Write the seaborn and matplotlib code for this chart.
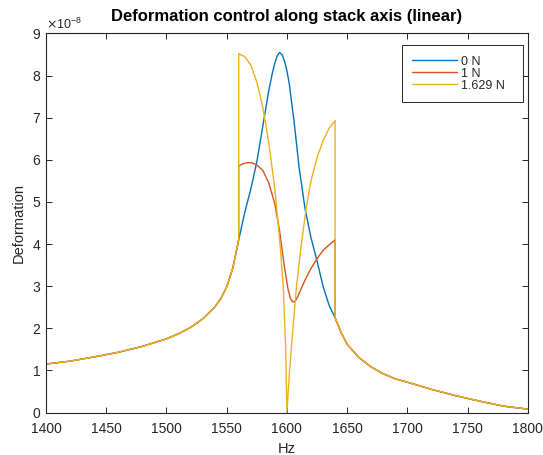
import numpy as np
import pandas as pd
import matplotlib
matplotlib.use("Agg")
import matplotlib.pyplot as plt
import matplotlib.ticker as mticker
import seaborn as sns

# deformation in units of 1e-8
# shared tails (all three forces coincide outside 1560-1640 Hz)
hz_left = [1400, 1420, 1440, 1460, 1480, 1500, 1510, 1520, 1530, 1540, 1545, 1550, 1555]
def_left = [1.15, 1.22, 1.32, 1.43, 1.57, 1.75, 1.87, 2.02, 2.22, 2.5, 2.7, 2.98, 3.42]

hz_right = [1645, 1650, 1660, 1670, 1680, 1690, 1700, 1720, 1740, 1760, 1780, 1800]
def_right = [1.9, 1.62, 1.3, 1.08, 0.92, 0.8, 0.72, 0.55, 0.4, 0.27, 0.15, 0.08]

# controlled band
hz_0n = [1560, 1565, 1570, 1575, 1580, 1585, 1588, 1590, 1592, 1594, 1596, 1598,
         1600, 1602, 1606, 1610, 1615, 1620, 1625, 1630, 1635, 1640]
def_0n = [4.1, 4.75, 5.3, 5.95, 6.8, 7.65, 8.07, 8.3, 8.47, 8.55, 8.5, 8.35,
          8.12, 7.8, 6.9, 5.85, 4.85, 4.15, 3.6, 3.0, 2.55, 2.25]

hz_1n = [1560, 1560, 1563, 1567, 1571, 1575, 1580, 1585, 1590, 1594, 1598, 1601,
         1603, 1605, 1607, 1609, 1612, 1616, 1620, 1625, 1630, 1635, 1640, 1640]
def_1n = [4.1, 5.85, 5.9, 5.93, 5.93, 5.88, 5.75, 5.45, 4.95, 4.3, 3.45, 2.92,
          2.7, 2.62, 2.65, 2.75, 2.95, 3.2, 3.42, 3.65, 3.85, 3.98, 4.1, 2.25]

hz_1629n = [1560, 1560, 1565, 1570, 1575, 1580, 1585, 1590, 1594, 1597, 1599, 1600,
            1602, 1605, 1608, 1612, 1616, 1620, 1625, 1630, 1635, 1640, 1640]
def_1629n = [4.1, 8.52, 8.45, 8.25, 7.85, 7.25, 6.4, 5.3, 4.1, 3.0, 1.5, 0.0,
             0.9, 2.0, 3.0, 4.0, 4.85, 5.5, 6.05, 6.45, 6.75, 6.93, 2.25]

labels = ["0 N", "1 N", "1.629 N"]
colors = ["#0072BD", "#D95319", "#EDB120"]

frames = []
for lab, hz_mid, d_mid in zip(labels, [hz_0n, hz_1n, hz_1629n], [def_0n, def_1n, def_1629n]):
    hz = hz_left + hz_mid + hz_right
    d = np.array(def_left + d_mid + def_right) * 1e-8
    frames.append(pd.DataFrame({"Hz": hz, "Deformation": d, "force": lab}))
df = pd.concat(frames, ignore_index=True)

sns.set_style("ticks")
plt.rcParams["font.family"] = ["Liberation Sans", "DejaVu Sans"]
plt.rcParams["text.color"] = "#262626"
plt.rcParams["axes.labelcolor"] = "#262626"
plt.rcParams["xtick.color"] = "#262626"
plt.rcParams["ytick.color"] = "#262626"

fig = plt.figure(figsize=(5.43, 4.55), dpi=100)
ax = fig.add_axes([0.0847, 0.0934, 0.8873, 0.833])

sns.lineplot(data=df, x="Hz", y="Deformation", hue="force", palette=colors,
             sort=False, estimator=None, errorbar=None, linewidth=1.0, ax=ax)

ax.set_xlim(1400, 1800)
ax.set_ylim(0, 9e-8)
ax.set_xticks(np.arange(1400, 1801, 50))
ax.set_yticks(np.arange(0, 9.01e-8, 1e-8))
fmt = mticker.ScalarFormatter(useMathText=True)
fmt.set_powerlimits((0, 0))
ax.yaxis.set_major_formatter(fmt)
ax.yaxis.get_offset_text().set_fontsize(9)

ax.tick_params(direction="in", top=True, right=True, length=4, width=0.7, labelsize=10)
ax.tick_params(axis="x", pad=7)
for sp in ax.spines.values():
    sp.set_color("#262626")
    sp.set_linewidth(0.8)

ax.set_xlabel("Hz", fontsize=10.5, labelpad=4)
ax.set_ylabel("Deformation", fontsize=10.5)
ax.set_title("Deformation control along stack axis (linear)", fontsize=12,
             fontweight="bold", color="black", pad=9)

# MATLAB-like legend box: left aligned content, extra room on the right
leg = ax.legend(loc="upper left", bbox_to_anchor=(0.7386, 0.9697, 0.251, 0.0),
                mode="expand", borderaxespad=0, fontsize=9, handlelength=3.6,
                labelspacing=0.0, fancybox=False, framealpha=1,
                edgecolor="#262626", borderpad=0.85, handletextpad=0.25)
leg.get_frame().set_linewidth(0.7)

fig.savefig("out.png", dpi=100)
